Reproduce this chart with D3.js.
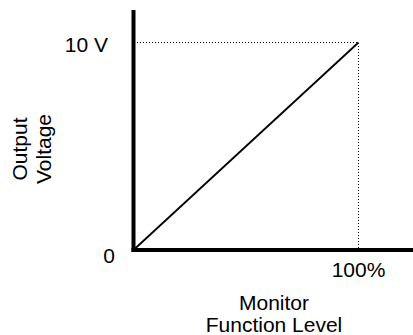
<!DOCTYPE html>
<html><head><meta charset="utf-8">
<script src="https://d3js.org/d3.v7.min.js"></script>
<style>html,body{margin:0;padding:0;background:#fff;}</style>
</head><body>
<script>
// Data
const levelPct = [0, 100];        // monitor function level (%)
const voltage = [0, 10];          // output voltage (V)
const yTickValues = [0, 10];
const yTickLabels = ["0", "10 V"];
const xTickValues = [100];
const xTickLabels = ["100%"];
const xTitle = ["Monitor", "Function Level"];
const yTitle = ["Output", "Voltage"];

const W = 413, H = 335;
const font = "'Liberation Sans', Arial, Helvetica, sans-serif";
const svg = d3.select("body").append("svg").attr("width", W).attr("height", H);

const x = d3.scaleLinear().domain([0, 100]).range([133.5, 358.5]);
const y = d3.scaleLinear().domain([0, 10]).range([250, 42.5]);

// dotted guides
svg.append("line").attr("x1", x(0) + 3).attr("x2", x(100)).attr("y1", y(10)).attr("y2", y(10))
  .attr("stroke", "#000").attr("stroke-width", 1).attr("stroke-dasharray", "1,2")
  .attr("shape-rendering", "crispEdges");
svg.append("line").attr("x1", x(100)).attr("x2", x(100)).attr("y1", y(10)).attr("y2", y(0))
  .attr("stroke", "#000").attr("stroke-width", 1).attr("stroke-dasharray", "1,2")
  .attr("shape-rendering", "crispEdges");

// data line
const data = levelPct.map((d, i) => [d, voltage[i]]);
svg.append("path").datum(data)
  .attr("d", d3.line().x(d => x(d[0])).y(d => y(d[1])))
  .attr("fill", "none").attr("stroke", "#000").attr("stroke-width", 1.8);

// axes
svg.append("line").attr("x1", x(0)).attr("x2", x(0)).attr("y1", 10).attr("y2", y(0) + 2)
  .attr("stroke", "#000").attr("stroke-width", 4);
svg.append("line").attr("x1", x(0) - 2).attr("x2", W).attr("y1", y(0)).attr("y2", y(0))
  .attr("stroke", "#000").attr("stroke-width", 4);

// y tick labels
svg.selectAll("text.yt").data(yTickValues).enter().append("text")
  .attr("x", (d, i) => i === 0 ? 115 : 108)
  .attr("y", d => y(d) + (d === 0 ? 13 : 9))
  .attr("text-anchor", "end").attr("font-family", font).attr("font-size", 21)
  .text((d, i) => yTickLabels[i]);

// x tick labels
svg.selectAll("text.xt").data(xTickValues).enter().append("text")
  .attr("x", d => x(d)).attr("y", 277)
  .attr("text-anchor", "middle").attr("font-family", font).attr("font-size", 21)
  .text((d, i) => xTickLabels[i]);

// x title
svg.selectAll("text.xtitle").data(xTitle).enter().append("text")
  .attr("x", 274).attr("y", (d, i) => 310 + i * 22)
  .attr("text-anchor", "middle").attr("font-family", font).attr("font-size", 21)
  .text(d => d);

// y title
svg.selectAll("text.ytitle").data(yTitle).enter().append("text")
  .attr("transform", (d, i) => `translate(${27 + i * 24},149) rotate(-90)`)
  .attr("text-anchor", "middle").attr("font-family", font).attr("font-size", 21)
  .text(d => d);
</script>
</body></html>
